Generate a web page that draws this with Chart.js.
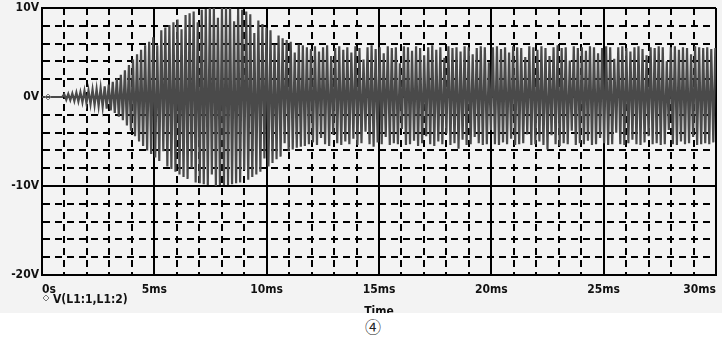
<!DOCTYPE html>
<html>
<head>
<meta charset="utf-8">
<script src="https://cdn.jsdelivr.net/npm/chart.js@4/dist/chart.umd.min.js"></script>
<style>
  html, body { margin: 0; padding: 0; background: #fff; }
  #wrap { position: relative; width: 722px; height: 337px; }
  #box { width: 722px; height: 313px; background: #f3f3f3; overflow: hidden; }
  #note { position: absolute; left: 365px; top: 317px; font: 16px "Noto Sans CJK SC", "DejaVu Sans"; color: #222; line-height: 18px; }
</style>
</head>
<body>
<div id="wrap">
  <div id="box"><canvas id="myChart" width="722" height="313"></canvas></div>
  <div id="note">④</div>
</div>
<script>
const seriesName = 'V(L1:1,L1:2)';
const axisTitle = 'Time';
const yTickValues = [-20, -10, 0, 10];
const yTickLabels = ['-20V', '-10V', '0V', '10V'];
const xTickLabels = ['0s', '5ms', '10ms', '15ms', '20ms', '25ms', '30ms'];

// ms between two samples (peak to trough)
const halfStep = 0.09;

// flat start before the oscillation builds up
const startZeros = [0, 0, 0, 0, 0, 0, 0, 0, 0, 0, 0];

// positive peaks, one per cycle
const upperPeaks = [
  0.3, 0.35, 0.4, 0.5, 0.55, 0.7, 0.75, 0.85, 0.9, 1.0,
  1.2, 1.4, 1.7, 2.1, 2.5, 3.0, 3.6, 4.2, 4.8, 5.3,
  5.8, 6.2, 6.7, 5.8, 7.5, 7.8, 8.1, 8.4, 8.7, 7.6,
  9.2, 9.4, 9.6, 8.4, 9.8, 9.9, 10, 10, 8.9, 10,
  10, 10, 8.5, 9.9, 9.8, 9.6, 9.3, 7.2, 8.6, 8.2,
  7.8, 7.5, 5.9, 6.9, 6.6, 6.4, 6.2, 5.0, 5.9, 5.8,
  5.6, 5.4, 5.7, 5.1, 5.6, 5.8, 4.6, 5.5, 5.7, 5.3,
  5.6, 5.0, 5.7, 5.5, 4.2, 5.6, 5.8, 5.4, 5.6, 4.9,
  5.7, 5.5, 5.6, 3.8, 5.7, 5.6, 5.2, 5.7, 5.5, 4.7,
  5.6, 5.8, 5.3, 5.6, 4.4, 5.7, 5.5, 5.6, 5.1, 5.7,
  5.6, 4.8, 5.5, 5.7, 5.6, 3.9, 5.6, 5.7, 5.4, 5.6,
  5.0, 5.7, 5.6, 5.5, 4.5, 5.7, 5.6, 5.3, 5.7, 5.5,
  4.6, 5.6, 5.8, 5.5, 5.6, 4.1, 5.7, 5.5, 5.6, 5.2,
  5.7, 5.6, 4.9, 5.5, 5.7, 5.6, 4.3, 5.6, 5.7, 5.5,
  5.1, 5.6, 5.7, 5.4, 4.7, 5.6, 5.5, 5.7, 5.6, 4.0,
  5.6, 5.7, 5.3, 5.6, 5.5, 4.8, 5.7, 5.6, 5.5, 5.6,
  5.4, 5.5
];

// negative peaks, one per cycle
const lowerPeaks = [
  -0.3, -0.35, -0.45, -0.5, -0.6, -0.7, -0.8, -0.9, -1.0, -1.1,
  -1.3, -1.5, -1.8, -2.2, -2.6, -3.2, -3.8, -4.4, -5.0, -5.5,
  -6.0, -6.4, -6.8, -7.2, -6.1, -7.8, -8.1, -8.4, -8.7, -9.0,
  -9.2, -8.0, -9.6, -9.7, -9.8, -9.9, -8.7, -10, -9.9, -9.9,
  -9.9, -9.8, -9.7, -9.6, -8.2, -9.3, -9.0, -8.7, -8.4, -6.9,
  -7.8, -7.4, -7.0, -6.7, -5.2, -6.1, -5.9, -5.7, -5.6, -5.5,
  -5.3, -5.1, -5.4, -4.6, -5.3, -5.5, -4.2, -5.2, -5.4, -5.0,
  -5.3, -4.7, -5.4, -5.2, -3.9, -5.3, -5.6, -5.1, -5.3, -4.5,
  -5.4, -5.2, -5.3, -3.6, -5.4, -5.3, -4.9, -5.5, -5.2, -4.4,
  -5.3, -5.5, -5.0, -5.3, -4.1, -5.4, -5.2, -5.8, -4.8, -5.4,
  -5.3, -4.5, -5.2, -5.4, -5.3, -3.7, -5.3, -5.4, -5.1, -5.3,
  -4.7, -5.4, -5.3, -5.2, -4.2, -5.4, -5.3, -5.0, -5.4, -5.9,
  -4.3, -5.3, -5.5, -5.2, -5.3, -3.8, -5.4, -5.2, -5.3, -4.9,
  -5.4, -5.3, -4.6, -5.2, -5.4, -5.3, -4.0, -5.3, -5.4, -5.2,
  -4.8, -5.3, -5.4, -5.1, -4.4, -5.3, -5.2, -5.4, -5.3, -3.7,
  -5.3, -5.4, -5.0, -5.3, -5.2, -4.5, -5.4, -5.3, -5.2, -5.3,
  -5.1
];

var volts = startZeros.slice();
for (let i = 0; i < upperPeaks.length; i++) {
  volts.push(upperPeaks[i]);
  if (i < lowerPeaks.length) volts.push(lowerPeaks[i]);
}
var points = volts.map((v, i) => ({ x: i * halfStep, y: v }));

const labelFont = { family: "'Liberation Sans Narrow', 'DejaVu Sans Condensed', sans-serif", size: 12, weight: 'bold' };

// dashed grid except on the major divisions
function dashFor(step) {
  return function (ctx) {
    if (!ctx.tick) return [];
    return Math.abs(ctx.tick.value % step) < 1e-6 ? [] : [7, 5];
  };
}

const legendText = {
  id: 'legendText',
  afterDraw(chart) {
    const c = chart.ctx;
    c.save();
    c.strokeStyle = '#777';
    c.lineWidth = 1;
    c.beginPath();
    c.moveTo(46, 295); c.lineTo(49, 298); c.lineTo(46, 301); c.lineTo(43, 298); c.closePath();
    c.stroke();
    c.fillStyle = '#111';
    c.font = "bold 12px 'Liberation Sans Narrow', 'DejaVu Sans Condensed', sans-serif";
    c.textBaseline = 'middle';
    c.fillText(chart.data.datasets[0].label, 53, 300);
    c.restore();
  }
};

const config = {
  type: 'line',
  data: {
    datasets: [{
      label: seriesName,
      data: points,
      borderColor: '#4a4a4a',
      borderWidth: 2.2,
      tension: 0,
      fill: false,
      pointStyle: 'rectRot',
      pointRadius: ctx => ctx.dataIndex === 3 ? 3 : 0,
      pointBorderColor: '#777',
      pointBackgroundColor: 'rgba(0,0,0,0)',
      pointBorderWidth: 1
    }]
  },
  options: {
    responsive: false,
    animation: false,
    layout: { padding: { left: 0, right: 6, top: 8, bottom: 0 } },
    plugins: { legend: { display: false }, tooltip: { enabled: false } },
    scales: {
      x: {
        type: 'linear', min: 0, max: 30, z: 1,
        ticks: {
          stepSize: 1, autoSkip: false, maxRotation: 0, padding: 8, align: 'inner',
          color: '#111', font: labelFont,
          callback: v => (v % 5 === 0 ? xTickLabels[v / 5] : '')
        },
        grid: { color: '#000', lineWidth: 2, drawTicks: false },
        border: { display: true, color: '#000', width: 2, dash: dashFor(5) },
        title: { display: true, text: axisTitle, color: '#111', font: labelFont, padding: { top: 0, bottom: -6 } },
        afterFit: s => { s.height = 38; s.paddingLeft = 0; s.paddingRight = 0; }
      },
      y: {
        min: -20, max: 10, z: 1,
        ticks: {
          stepSize: 2, autoSkip: false, padding: 3,
          color: '#111', font: labelFont,
          callback: v => {
            const k = yTickValues.indexOf(v);
            return k >= 0 ? yTickLabels[k] : '';
          }
        },
        grid: { color: '#000', lineWidth: 2, drawTicks: false },
        border: { display: true, color: '#000', width: 2, dash: dashFor(10) },
        afterFit: s => { s.width = 42; s.paddingTop = 0; s.paddingBottom = 0; }
      }
    }
  },
  plugins: [legendText]
};

var myChart = new Chart(document.getElementById('myChart'), config);
</script>
</body>
</html>
